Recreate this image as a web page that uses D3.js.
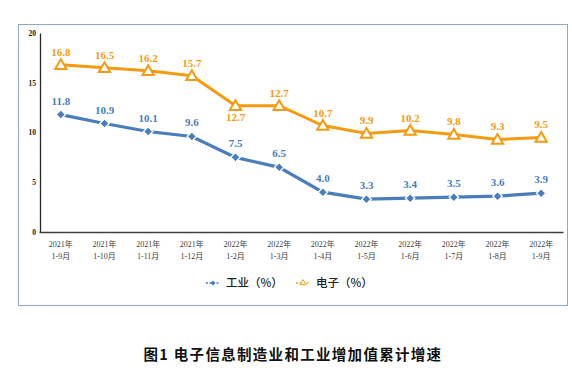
<!DOCTYPE html>
<html>
<head>
<meta charset="utf-8">
<script src="https://cdn.jsdelivr.net/npm/d3@7"></script>
<style>
  body { margin: 0; background: #fff; }
  svg { display: block; }
</style>
</head>
<body>
<div id="chart"></div>
<script>
// Data
const years = ['2021年', '2021年', '2021年', '2021年', '2022年', '2022年', '2022年', '2022年', '2022年', '2022年', '2022年', '2022年'];
const periods = ['1-9月', '1-10月', '1-11月', '1-12月', '1-2月', '1-3月', '1-4月', '1-5月', '1-6月', '1-7月', '1-8月', '1-9月'];
const industry = [11.8, 10.9, 10.1, 9.6, 7.5, 6.5, 4.0, 3.3, 3.4, 3.5, 3.6, 3.9];
const electronics = [16.8, 16.5, 16.2, 15.7, 12.7, 12.7, 10.7, 9.9, 10.2, 9.8, 9.3, 9.5];
const yTicks = [0, 5, 10, 15, 20];

const BLUE = '#4A7EBB';
const ORANGE = '#F59B0F';
const serif = '"Liberation Serif", "Noto Sans CJK SC", serif';
const cjk = '"Noto Sans CJK SC", sans-serif';

const W = 572, H = 373;
const svg = d3.select('#chart').append('svg')
    .attr('width', W)
    .attr('height', H);

// Outer frame
svg.append('rect')
    .attr('x', 18.5).attr('y', 24.5)
    .attr('width', 549).attr('height', 281)
    .attr('fill', 'none')
    .attr('stroke', '#8FA8C8')
    .attr('stroke-width', 1);

const idx = d3.range(industry.length);
const x = d3.scaleBand().domain(idx).range([39, 563]);
const cx = i => x(i) + x.bandwidth() / 2;
const y = d3.scaleLinear().domain([0, 20]).range([232, 33]);

// Y axis
const yAxis = svg.append('g')
    .attr('transform', 'translate(40,0)')
    .call(d3.axisLeft(y).tickValues(yTicks).tickSize(0).tickPadding(4));
yAxis.select('.domain').attr('stroke', '#262626').attr('stroke-width', 1.3);
yAxis.selectAll('text')
    .style('font-family', serif)
    .style('font-size', '7.5px')
    .style('font-weight', 'bold')
    .attr('fill', '#222');

// X axis
const xAxis = svg.append('g')
    .attr('transform', 'translate(0,232)')
    .call(d3.axisBottom(x).tickSize(0).tickFormat(''));
xAxis.select('.domain').attr('stroke', '#404040').attr('stroke-width', 1.3);
xAxis.selectAll('.tick').each(function(d) {
    const t = d3.select(this).select('text')
        .attr('y', 0)
        .attr('fill', '#404040')
        .style('font-family', serif)
        .style('font-size', '8px');
    t.append('tspan').attr('x', 0).attr('dy', 15).text(years[d]);
    t.append('tspan').attr('x', 0).attr('dy', 12).text(periods[d]);
});

const line = d3.line().x((d, i) => cx(i)).y(d => y(d));

// Electronics series
svg.append('path')
    .datum(electronics)
    .attr('d', line)
    .attr('fill', 'none')
    .attr('stroke', ORANGE)
    .attr('stroke-width', 3);

const tri = d3.symbol().type(d3.symbolTriangle).size(55);
svg.selectAll('path.tri')
    .data(electronics)
  .enter().append('path')
    .attr('class', 'tri')
    .attr('d', tri)
    .attr('transform', (d, i) => `translate(${cx(i)},${y(d) + 1})`)
    .attr('fill', '#fff')
    .attr('stroke', ORANGE)
    .attr('stroke-width', 2);

// Industry series
svg.append('path')
    .datum(industry)
    .attr('d', line)
    .attr('fill', 'none')
    .attr('stroke', BLUE)
    .attr('stroke-width', 3.2);

// diamond = square turned 45 degrees
const dia = d3.symbol().type(d3.symbolSquare).size(44);
svg.selectAll('path.dia')
    .data(industry)
  .enter().append('path')
    .attr('class', 'dia')
    .attr('d', dia)
    .attr('transform', (d, i) => `translate(${cx(i)},${y(d)}) rotate(45)`)
    .attr('fill', BLUE)
    .attr('stroke', '#fff')
    .attr('stroke-width', 1.3);

// Value labels
svg.selectAll('text.el')
    .data(electronics)
  .enter().append('text')
    .attr('class', 'el')
    .attr('x', (d, i) => cx(i))
    .attr('y', (d, i) => i === 4 ? y(d) + 15 : y(d) - 9)
    .attr('text-anchor', 'middle')
    .attr('fill', ORANGE)
    .style('font-family', serif)
    .style('font-size', '11px')
    .style('font-weight', 'bold')
    .text(d => d.toFixed(1));

svg.selectAll('text.ind')
    .data(industry)
  .enter().append('text')
    .attr('class', 'ind')
    .attr('x', (d, i) => cx(i))
    .attr('y', d => y(d) - 10)
    .attr('text-anchor', 'middle')
    .attr('fill', BLUE)
    .style('font-family', serif)
    .style('font-size', '11px')
    .style('font-weight', 'bold')
    .text(d => d.toFixed(1));

// Legend
const legendItems = [
    {label: '工业（%）', color: BLUE, kind: 'dia', x: 206},
    {label: '电子（%）', color: ORANGE, kind: 'tri', x: 296}
];
legendItems.forEach(item => {
    const g = svg.append('g').attr('transform', `translate(${item.x},283)`);
    g.append('line')
        .attr('x1', 0).attr('x2', 14)
        .attr('stroke', item.color)
        .attr('stroke-width', 1.5)
        .attr('stroke-dasharray', '2,1.5');
    if (item.kind === 'dia') {
        g.append('path')
            .attr('d', d3.symbol().type(d3.symbolSquare).size(12)())
            .attr('transform', 'translate(7,0) rotate(45)')
            .attr('fill', item.color);
    } else {
        g.append('path')
            .attr('d', d3.symbol().type(d3.symbolTriangle).size(16)())
            .attr('transform', 'translate(7,0)')
            .attr('fill', '#fff')
            .attr('stroke', item.color)
            .attr('stroke-width', 1);
    }
    g.append('text')
        .attr('x', 20)
        .attr('y', 4)
        .attr('fill', '#222')
        .style('font-family', cjk)
        .style('font-size', '11.5px')
        .style('font-weight', '500')
        .text(item.label);
});

// Caption
svg.append('text')
    .attr('x', 293)
    .attr('y', 360)
    .attr('text-anchor', 'middle')
    .attr('fill', '#111')
    .style('font-family', cjk)
    .style('font-size', '14.5px')
    .style('font-weight', 'bold')
    .style('letter-spacing', '1.3px')
    .text('图1  电子信息制造业和工业增加值累计增速');
</script>
</body>
</html>
